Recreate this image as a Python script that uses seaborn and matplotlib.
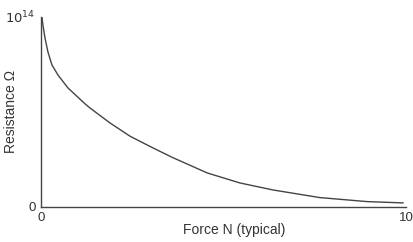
import matplotlib
matplotlib.use("Agg")
import matplotlib.pyplot as plt
import seaborn as sns
import pandas as pd

force = [0.0, 0.03, 0.055, 0.11, 0.19, 0.30, 0.47, 0.74, 1.21, 1.34, 1.89, 2.44, 2.99, 3.58, 4.55, 5.45, 6.36, 7.64, 8.93, 9.92]
resistance = [1.0, 0.995, 0.955, 0.889, 0.816, 0.747, 0.693, 0.626, 0.542, 0.521, 0.442, 0.372, 0.318, 0.262, 0.179, 0.126, 0.089, 0.049, 0.028, 0.021]
resistance = [r * 1e14 for r in resistance]
x_ticks = [0, 10]
x_labels = ["0", "10"]
y_ticks = [0, 1e14]
y_labels = ["0", "$10^{14}$"]

sns.set_style("white")
plt.rcParams['font.family'] = ['Liberation Sans', 'DejaVu Sans']

df = pd.DataFrame({"force": force, "resistance": resistance})

fig = plt.figure(figsize=(4.14, 2.42), dpi=100)
ax = fig.add_axes([0.099, 0.145, 0.882, 0.785])
sns.lineplot(data=df, x="force", y="resistance", ax=ax, color="#444444", linewidth=1.0)

ax.set_xlim(0, 10)
ax.set_ylim(0, 1e14)
ax.set_xticks(x_ticks)
ax.set_xticklabels(x_labels, fontsize=9.5, color="#333333")
ax.set_yticks(y_ticks)
ax.set_yticklabels(y_labels, fontsize=9.5, color="#333333")
ax.tick_params(axis="both", length=3, width=0.8, color="#444444", pad=1, direction="out")
ax.set_xlabel("Force N (typical)", fontsize=10, color="#333333")
ax.xaxis.set_label_coords(0.53, -0.085)
ax.set_ylabel("Resistance Ω", fontsize=10, color="#333333")
ax.yaxis.set_label_coords(-0.062, 0.5)
for s in ["top", "right"]:
    ax.spines[s].set_visible(False)
for s in ["left", "bottom"]:
    ax.spines[s].set_color("#444444")
    ax.spines[s].set_linewidth(1.0)

fig.savefig("out.png", dpi=100)
